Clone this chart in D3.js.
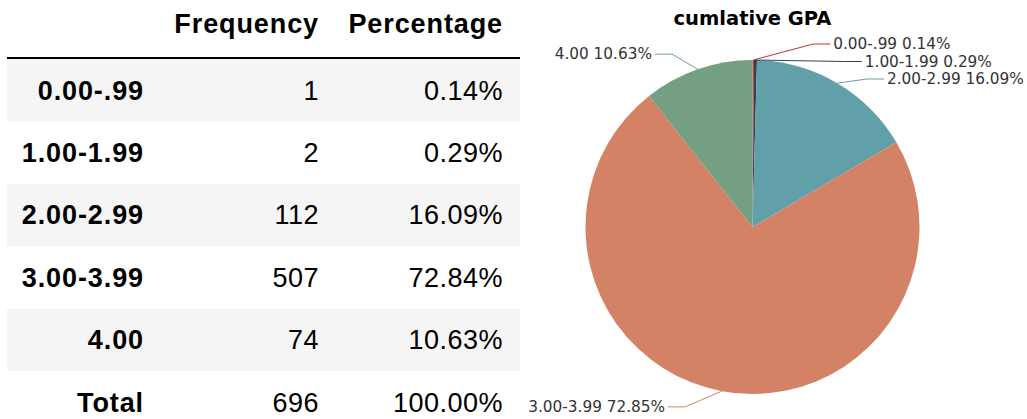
<!DOCTYPE html>
<html>
<head>
<meta charset="utf-8">
<script src="https://cdn.jsdelivr.net/npm/d3@7"></script>
<style>
  body { margin: 0; background: #fff; }
  svg { display: block; }
</style>
</head>
<body>
<svg width="1027" height="419"></svg>
<script>
// data
var categories = ["0.00-.99", "1.00-1.99", "2.00-2.99", "3.00-3.99", "4.00"];
var frequency = [1, 2, 112, 507, 74];
var columns = ["Frequency", "Percentage"];
var colors = ["#c23531", "#2f4554", "#61a0a8", "#d48265", "#749f83"];
var title = "cumlative GPA";

var svg = d3.select("svg");
var total = d3.sum(frequency);

// ---------- table ----------
var rows = categories.map(function(c, i) {
  return {label: c, freq: String(frequency[i]), pct: (frequency[i] / total * 100).toFixed(2) + "%", stripe: i % 2 == 0};
});
rows.push({label: "Total", freq: String(total), pct: "100.00%", stripe: false});

var tbl = svg.append("g").attr("font-family", "'Liberation Sans', Arial, sans-serif")
    .attr("font-size", 27).attr("fill", "#000");

var y = d3.scaleBand()
    .domain(d3.range(rows.length))
    .range([59, 59 + 62.4 * rows.length]);

tbl.selectAll("rect.stripe")
  .data(rows)
  .enter().append("rect")
    .attr("class", "stripe")
    .attr("x", 7)
    .attr("width", 513)
    .attr("y", function(d, i) { return y(i); })
    .attr("height", y.bandwidth())
    .attr("fill", function(d) { return d.stripe ? "#f5f5f5" : "none"; });

tbl.append("line")
    .attr("x1", 7).attr("x2", 520)
    .attr("y1", 58).attr("y2", 58)
    .attr("stroke", "#000").attr("stroke-width", 2);

var colRight = [144, 319, 503];

tbl.selectAll("text.head")
  .data(columns)
  .enter().append("text")
    .attr("class", "head")
    .attr("x", function(d, i) { return colRight[i + 1]; })
    .attr("y", 33)
    .attr("text-anchor", "end")
    .attr("font-weight", "bold")
    .attr("letter-spacing", 0.9)
    .text(function(d) { return d; });

var rowG = tbl.selectAll("g.row")
  .data(rows)
  .enter().append("g")
    .attr("class", "row")
    .attr("transform", function(d, i) { return "translate(0," + (y(i) + y.bandwidth() / 2) + ")"; });

rowG.append("text")
    .attr("x", colRight[0]).attr("dy", "0.35em")
    .attr("text-anchor", "end").attr("font-weight", "bold")
    .attr("letter-spacing", 0.9)
    .text(function(d) { return d.label; });

rowG.append("text")
    .attr("x", colRight[1]).attr("dy", "0.35em")
    .attr("text-anchor", "end")
    .attr("letter-spacing", 0.5)
    .text(function(d) { return d.freq; });

rowG.append("text")
    .attr("x", colRight[2]).attr("dy", "0.35em")
    .attr("text-anchor", "end")
    .attr("letter-spacing", 0.5)
    .text(function(d) { return d.pct; });

// ---------- pie ----------
var cx = 752.5, cy = 227, r = 167,
    len = 16, len2 = 17, gap = 3, lineH = 17.5;

// percent with precision 2, largest remainder like echarts
function percents(vals, prec) {
  var digits = Math.pow(10, prec), sum = d3.sum(vals);
  var votes = vals.map(function(v) { return v / sum * digits * 100; });
  var seats = votes.map(function(v) { return Math.floor(v); });
  var left = digits * 100 - d3.sum(seats);
  var rem = votes.map(function(v, i) { return v - seats[i]; });
  while (left > 0) {
    var m = d3.maxIndex(rem);
    seats[m]++; rem[m] = -1; left--;
  }
  return seats.map(function(s) { return (s / digits).toFixed(prec); });
}
var piePct = percents(frequency, 2);

var pie = d3.pie().sort(null).value(function(d) { return d; });
var arcs = pie(frequency);
var arc = d3.arc().innerRadius(0).outerRadius(r);

var pg = svg.append("g");

pg.append("text")
    .attr("x", cx).attr("y", 25)
    .attr("text-anchor", "middle")
    .attr("font-family", "'DejaVu Sans', sans-serif")
    .attr("font-weight", "bold")
    .attr("font-size", 19.5)
    .attr("fill", "#000")
    .text(title);

pg.append("g")
    .attr("transform", "translate(" + cx + "," + cy + ")")
  .selectAll("path")
  .data(arcs)
  .enter().append("path")
    .attr("d", arc)
    .attr("fill", function(d, i) { return colors[i]; });

// label layout
var labels = arcs.map(function(d, i) {
  var mid = (d.startAngle + d.endAngle) / 2;
  return {
    i: i,
    mid: mid,
    side: Math.sin(mid) >= 0 ? 1 : -1,
    y: cy - (r + len) * Math.cos(mid),
    text: categories[i] + " " + piePct[i] + "%"
  };
});

[1, -1].forEach(function(side) {
  var list = labels.filter(function(l) { return l.side == side; })
      .sort(function(a, b) { return a.y - b.y; });
  for (var k = 1; k < list.length; k++) {
    if (list[k].y < list[k - 1].y + lineH) list[k].y = list[k - 1].y + lineH;
  }
});

var R = r + len + len2;
labels.forEach(function(l) {
  var dy = Math.abs(l.y - cy);
  var dx = dy < R ? Math.sqrt(R * R - dy * dy) : 0;
  l.tx = cx + l.side * dx;
  l.ex = l.tx - l.side * gap;
  l.kx = l.ex - l.side * len2;
  l.px = cx + r * Math.sin(l.mid);
  l.py = cy - r * Math.cos(l.mid);
});

pg.selectAll("polyline")
  .data(labels)
  .enter().append("polyline")
    .attr("points", function(l) { return [[l.px, l.py], [l.kx, l.y], [l.ex, l.y]].join(" "); })
    .attr("fill", "none")
    .attr("stroke", function(l) { return colors[l.i]; })
    .attr("stroke-width", 1);

pg.selectAll("text.lab")
  .data(labels)
  .enter().append("text")
    .attr("class", "lab")
    .attr("x", function(l) { return l.tx; })
    .attr("y", function(l) { return l.y; })
    .attr("dy", "0.35em")
    .attr("text-anchor", function(l) { return l.side > 0 ? "start" : "end"; })
    .attr("font-family", "'DejaVu Sans', sans-serif")
    .attr("font-size", 15.3)
    .attr("fill", "#333")
    .text(function(l) { return l.text; });
</script>
</body>
</html>
